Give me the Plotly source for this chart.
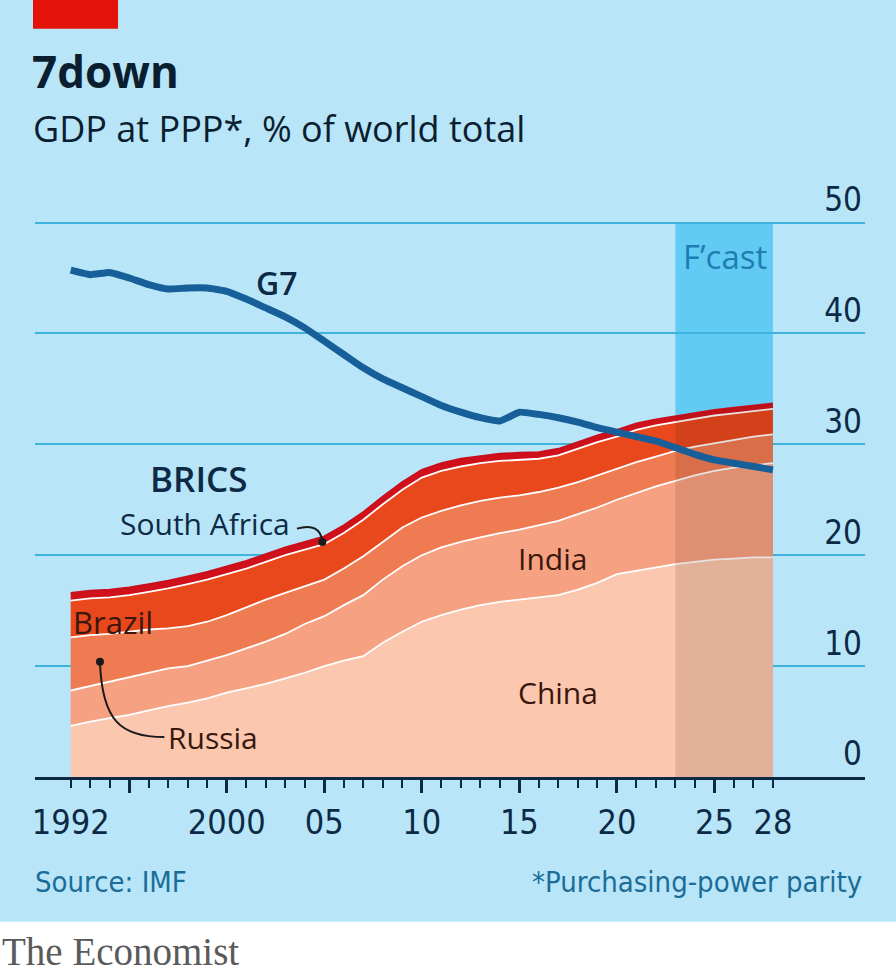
import plotly.graph_objects as go

# data (% of world GDP at PPP)
years = list(range(1992, 2029))
china = [4.6, 5.0, 5.3, 5.6, 6.0, 6.4, 6.7, 7.1, 7.6, 8.0, 8.4, 8.9, 9.4, 10.0, 10.5, 10.9, 12.1, 13.1, 14.0,
         14.6, 15.1, 15.5, 15.8, 16.0, 16.2, 16.4, 16.9, 17.5, 18.3, 18.6, 18.9, 19.2, 19.4, 19.6, 19.7, 19.8, 19.8]
india = [3.2, 3.2, 3.3, 3.4, 3.4, 3.4, 3.3, 3.4, 3.4, 3.6, 3.8, 4.0, 4.4, 4.5, 5.0, 5.5, 5.7, 5.9, 6.0,
         6.1, 6.1, 6.1, 6.2, 6.3, 6.5, 6.7, 6.8, 6.8, 6.7, 7.0, 7.3, 7.5, 7.8, 8.0, 8.2, 8.3, 8.5]
russia = [4.8, 4.6, 4.3, 4.1, 3.9, 3.6, 3.6, 3.5, 3.6, 3.7, 3.8, 3.7, 3.4, 3.3, 3.3, 3.5, 3.4, 3.5, 3.4,
          3.3, 3.3, 3.3, 3.2, 3.1, 3.0, 3.0, 2.9, 2.9, 2.8, 2.8, 2.7, 2.7, 2.6, 2.5, 2.5, 2.6, 2.6]
brazil = [3.3, 3.3, 3.3, 3.3, 3.4, 3.6, 3.8, 3.8, 3.7, 3.5, 3.4, 3.4, 3.3, 3.2, 3.2, 3.3, 3.4, 3.4, 3.6,
          3.6, 3.5, 3.4, 3.3, 3.2, 3.0, 2.9, 3.0, 3.0, 2.9, 2.9, 2.8, 2.6, 2.5, 2.5, 2.4, 2.3, 2.3]
south_africa = [0.7, 0.7, 0.7, 0.7, 0.7, 0.7, 0.7, 0.7, 0.7, 0.7, 0.7, 0.7, 0.7, 0.7, 0.7, 0.7, 0.7, 0.7, 0.7,
                0.7, 0.7, 0.65, 0.65, 0.65, 0.6, 0.6, 0.6, 0.6, 0.6, 0.6, 0.55, 0.55, 0.5, 0.5, 0.5, 0.5, 0.5]
g7 = [45.7, 45.3, 45.5, 45.0, 44.4, 44.0, 44.1, 44.1, 43.8, 43.1, 42.3, 41.5, 40.5, 39.3, 38.1, 36.9, 35.9, 35.1, 34.3,
      33.5, 32.9, 32.4, 32.1, 32.9, 32.7, 32.4, 32.0, 31.5, 31.1, 30.7, 30.3, 29.7, 29.1, 28.6, 28.3, 28.0, 27.7]

forecast_start = 2023
major_tick_years = [1995, 2000, 2005, 2010, 2015, 2020, 2025]
label_years = [1992, 2000, 2005, 2010, 2015, 2020, 2025, 2028]
label_text = ['1992', '2000', '05', '10', '15', '20', '25', '28']
y_ticks = [0, 10, 20, 30, 40, 50]

# colours / fonts
BG = '#b8e5f8'
NAVY = '#0c2a45'
BROWN = '#3a170c'
GRID = '#3fb3de'
COND = 'DejaVu Sans Condensed, Roboto'
SANS = 'Open Sans'

# plot area in pixels
W, H = 896, 977
PX_L, PX_R, PX_T, PX_B = 35, 865, 216.5, 777


def paper_x(px):
    return (px - PX_L) / (PX_R - PX_L)


def paper_y(py):
    return (PX_B - py) / (PX_B - PX_T)


fig = go.Figure()

# stacked BRICS areas, bottom to top
layers = [(china, '#fbc7ae', 'white'),
          (india, '#f6a181', 'white'),
          (russia, '#ef7b52', 'white'),
          (brazil, '#e9471c', 'white'),
          (south_africa, '#d0101a', '#c8101c')]
for vals, fill, edge in layers:
    fig.add_trace(go.Scatter(x=years, y=vals, stackgroup='brics', mode='lines',
                             fillcolor=fill, line=dict(color=edge, width=1.8),
                             hoverinfo='skip', showlegend=False))

# darken the forecast part of the areas
total = [sum(v) for v in zip(china, india, russia, brazil, south_africa)]
fc_years = [y for y in years if y >= forecast_start]
fc_total = [t for y, t in zip(years, total) if y >= forecast_start]
fig.add_trace(go.Scatter(x=fc_years, y=fc_total, fill='tozeroy', mode='lines',
                         fillcolor='rgba(70,30,20,0.13)', line=dict(width=0),
                         hoverinfo='skip', showlegend=False))

# G7 line
fig.add_trace(go.Scatter(x=years, y=g7, mode='lines',
                         line=dict(color='#175f98', width=7, shape='spline', smoothing=0.4),
                         hoverinfo='skip', showlegend=False))

# leader dots (Russia, South Africa)
fig.add_trace(go.Scatter(x=[1993.5, 2004.9], y=[10.4, 21.2], mode='markers',
                         marker=dict(color='#1a1a1a', size=8),
                         hoverinfo='skip', showlegend=False))

# helper trace for the label axis
fig.add_trace(go.Scatter(x=years, y=g7, xaxis='x2', mode='lines', opacity=0,
                         hoverinfo='skip', showlegend=False))

shapes = [
    # footer white band
    dict(type='rect', xref='paper', yref='paper', x0=paper_x(-5), x1=paper_x(W + 5),
         y0=paper_y(922), y1=paper_y(H + 5), fillcolor='white', line=dict(width=0), layer='below'),
    # red tag
    dict(type='rect', xref='paper', yref='paper', x0=paper_x(33), x1=paper_x(118),
         y0=paper_y(28), y1=paper_y(-5), fillcolor='#e3120b', line=dict(width=0), layer='below'),
    # forecast band
    dict(type='rect', xref='x', yref='y', x0=forecast_start, x1=years[-1], y0=0, y1=50,
         fillcolor='#62cbf4', line=dict(width=0), layer='below'),
    # leader lines
    dict(type='path', xref='x', yref='y', path='M 1993.5,10.4 C 1993.6,5.0 1994.6,3.6 1996.8,3.6',
         line=dict(color='#1a1a1a', width=2)),
    dict(type='path', xref='x', yref='y', path='M 2003.6,22.4 Q 2004.8,23.0 2004.9,21.2',
         line=dict(color='#1a1a1a', width=2)),
]

annotations = [
    dict(text='<b>7down</b>', xref='paper', yref='paper', x=paper_x(30), y=paper_y(70),
         xanchor='left', yanchor='middle', showarrow=False,
         font=dict(family=SANS, size=44, color='#0b1e30')),
    dict(text='GDP at PPP*, % of world total', xref='paper', yref='paper', x=paper_x(31), y=paper_y(128),
         xanchor='left', yanchor='middle', showarrow=False,
         font=dict(family=SANS, size=36, color='#0b1e30')),
    dict(text='Source: IMF', xref='paper', yref='paper', x=paper_x(33), y=paper_y(882),
         xanchor='left', yanchor='middle', showarrow=False,
         font=dict(family=COND, size=29, color='#1b6d98')),
    dict(text='*Purchasing-power parity', xref='paper', yref='paper', x=paper_x(864), y=paper_y(882),
         xanchor='right', yanchor='middle', showarrow=False,
         font=dict(family=COND, size=29, color='#1b6d98')),
    dict(text='The Economist', xref='paper', yref='paper', x=paper_x(0), y=paper_y(952),
         xanchor='left', yanchor='middle', showarrow=False,
         font=dict(family='Liberation Serif, DejaVu Serif', size=39, color='#5a5a5a')),
    dict(text='F’cast', x=2025.55, y=46.9, showarrow=False,
         font=dict(family=SANS, size=33, color='#1e7db3')),
    dict(text='G7', x=2002.6, y=44.6, showarrow=False,
         font=dict(family=SANS, size=32, color=NAVY, weight=600)),
    dict(text='BRICS', x=1998.6, y=26.9, showarrow=False,
         font=dict(family=SANS, size=35, color=NAVY, weight=600)),
    dict(text='South Africa', x=1998.9, y=22.9, showarrow=False,
         font=dict(family=SANS, size=30, color=NAVY)),
    dict(text='India', x=2016.7, y=19.7, showarrow=False,
         font=dict(family=SANS, size=30, color=BROWN)),
    dict(text='China', x=2017.0, y=7.6, showarrow=False,
         font=dict(family=SANS, size=30, color=BROWN)),
    dict(text='Brazil', x=1992.0, y=14.0, xanchor='left', showarrow=False,
         font=dict(family=SANS, size=31, color=BROWN)),
    dict(text='Russia', x=1999.3, y=3.6, showarrow=False,
         font=dict(family=SANS, size=30, color=BROWN)),
]

fig.update_layout(
    width=W, height=H,
    margin=dict(l=PX_L, r=W - PX_R, t=PX_T, b=H - PX_B, pad=0),
    paper_bgcolor=BG, plot_bgcolor='rgba(0,0,0,0)',
    showlegend=False,
    shapes=shapes,
    annotations=annotations,
    xaxis=dict(range=[1990.17, 2032.72], showgrid=False, zeroline=False,
               showline=True, linecolor=NAVY, linewidth=3,
               tickmode='array', tickvals=major_tick_years, showticklabels=False,
               ticks='outside', ticklen=13, tickwidth=2.5, tickcolor=NAVY,
               minor=dict(tickmode='array', tickvals=years, ticks='outside',
                          ticklen=8, tickwidth=2, tickcolor=NAVY)),
    xaxis2=dict(overlaying='x', matches='x', anchor='y', side='bottom',
                showgrid=False, zeroline=False, showline=False, ticks='',
                tickmode='array', tickvals=label_years, ticktext=label_text,
                ticklabelstandoff=22,
                tickfont=dict(family=COND, size=34, color=NAVY)),
    yaxis=dict(range=[0, 50.5], side='right', tickmode='array', tickvals=y_ticks,
               ticklabelposition='inside top', ticklabeloverflow='allow', ticks='',
               showgrid=True, gridcolor=GRID, gridwidth=1.6,
               zeroline=False, showline=False,
               tickfont=dict(family=COND, size=33, color=NAVY)),
)

fig.write_html("out.html", config={'displayModeBar': False},
               post_script="document.body.style.margin='0px';")
